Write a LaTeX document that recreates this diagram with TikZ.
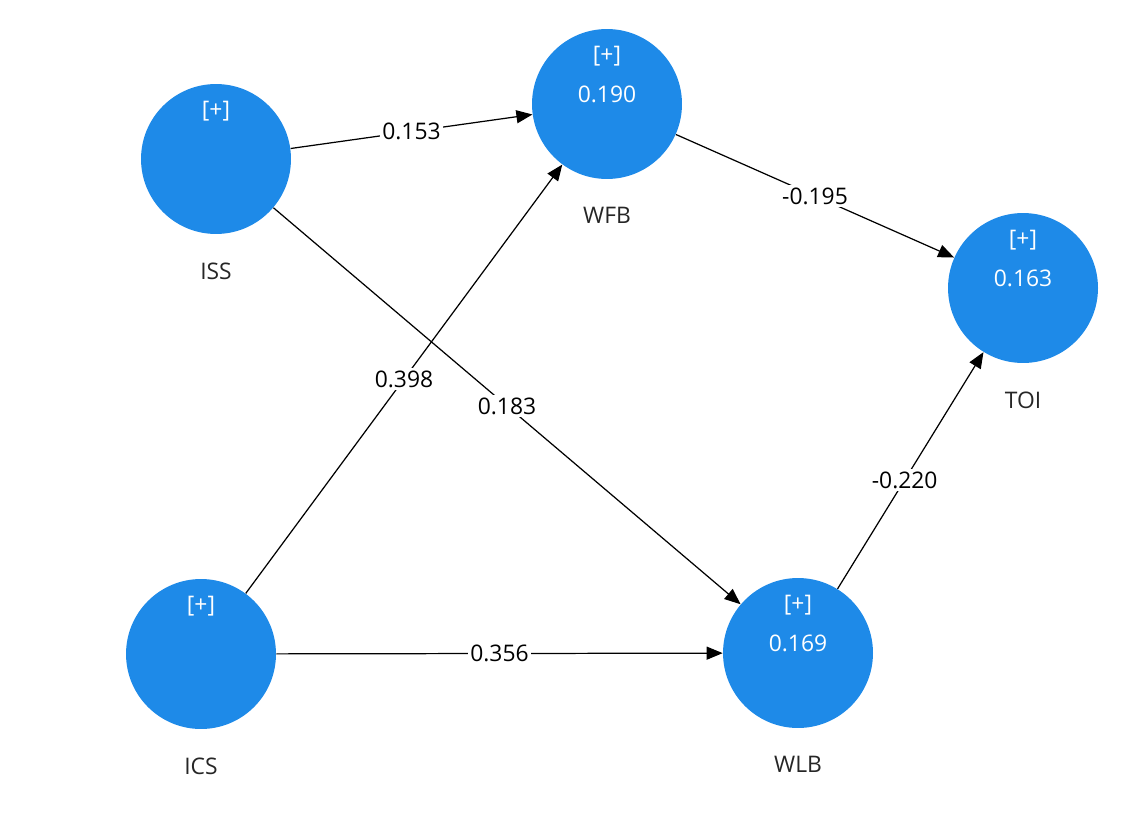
\documentclass[tikz,border=0pt]{standalone}
\usepackage{fontspec}
\setmainfont{Open Sans}
\usetikzlibrary{arrows.meta}
\usetikzlibrary{positioning}

\definecolor{lvblue}{RGB}{30,138,232}

\begin{document}
\begin{tikzpicture}[x=0.02cm, y=-0.02cm,
                    node distance=4.4mm,
                    every node/.style={font=\fontsize{13}{15}\selectfont},
                    latent/.style={circle,
                      fill=lvblue,
                      minimum size=3cm,
                      inner sep=0pt},
                    inside/.style={text=white},
                    lvname/.style={text=black!85},
                    weight/.style={fill=white, inner sep=1.5pt, text=black},
                    path/.style={line width=0.7pt,
                      -{Triangle[length=3.2mm, width=2.6mm]}}]
\useasboundingbox (0,0) rectangle (1124,821);
% latent variables
\node[latent] (iss) at (216,159) {};
\node[latent] (wfb) at (607,104) {};
\node[latent] (toi) at (1023,288) {};
\node[latent] (ics) at (201,654) {};
\node[latent] (wlb) at (798,653) {};
% [+] marks and R squared values
\node[inside] (iss-plus) at ([yshift=0.96cm]iss.center) {[+]};
\node[inside] (wfb-plus) at ([yshift=0.96cm]wfb.center) {[+]};
\node[inside] (wfb-r2) at ([yshift=0.2cm]wfb.center) {0.190};
\node[inside] (toi-plus) at ([yshift=0.96cm]toi.center) {[+]};
\node[inside] (toi-r2) at ([yshift=0.2cm]toi.center) {0.163};
\node[inside] (ics-plus) at ([yshift=0.96cm]ics.center) {[+]};
\node[inside] (wlb-plus) at ([yshift=0.96cm]wlb.center) {[+]};
\node[inside] (wlb-r2) at ([yshift=0.2cm]wlb.center) {0.169};
% names under the circles
\node[lvname] (iss-name) [below = of iss] {ISS};
\node[lvname] (wfb-name) [below = of wfb] {WFB};
\node[lvname] (toi-name) [below = of toi] {TOI};
\node[lvname] (ics-name) [below = of ics] {ICS};
\node[lvname] (wlb-name) [below = of wlb] {WLB};
% path coefficients
\draw[path] (iss) -- node[weight] {0.153} (wfb);
\draw[path] (iss) -- node[weight] {0.183} (wlb);
\draw[path] (ics) -- node[weight] {0.398} (wfb);
\draw[path] (ics) -- node[weight] {0.356} (wlb);
\draw[path] (wfb) -- node[weight] {-0.195} (toi);
\draw[path] (wlb) -- node[weight, pos=0.46] {-0.220} (toi);
\end{tikzpicture}
\end{document}
